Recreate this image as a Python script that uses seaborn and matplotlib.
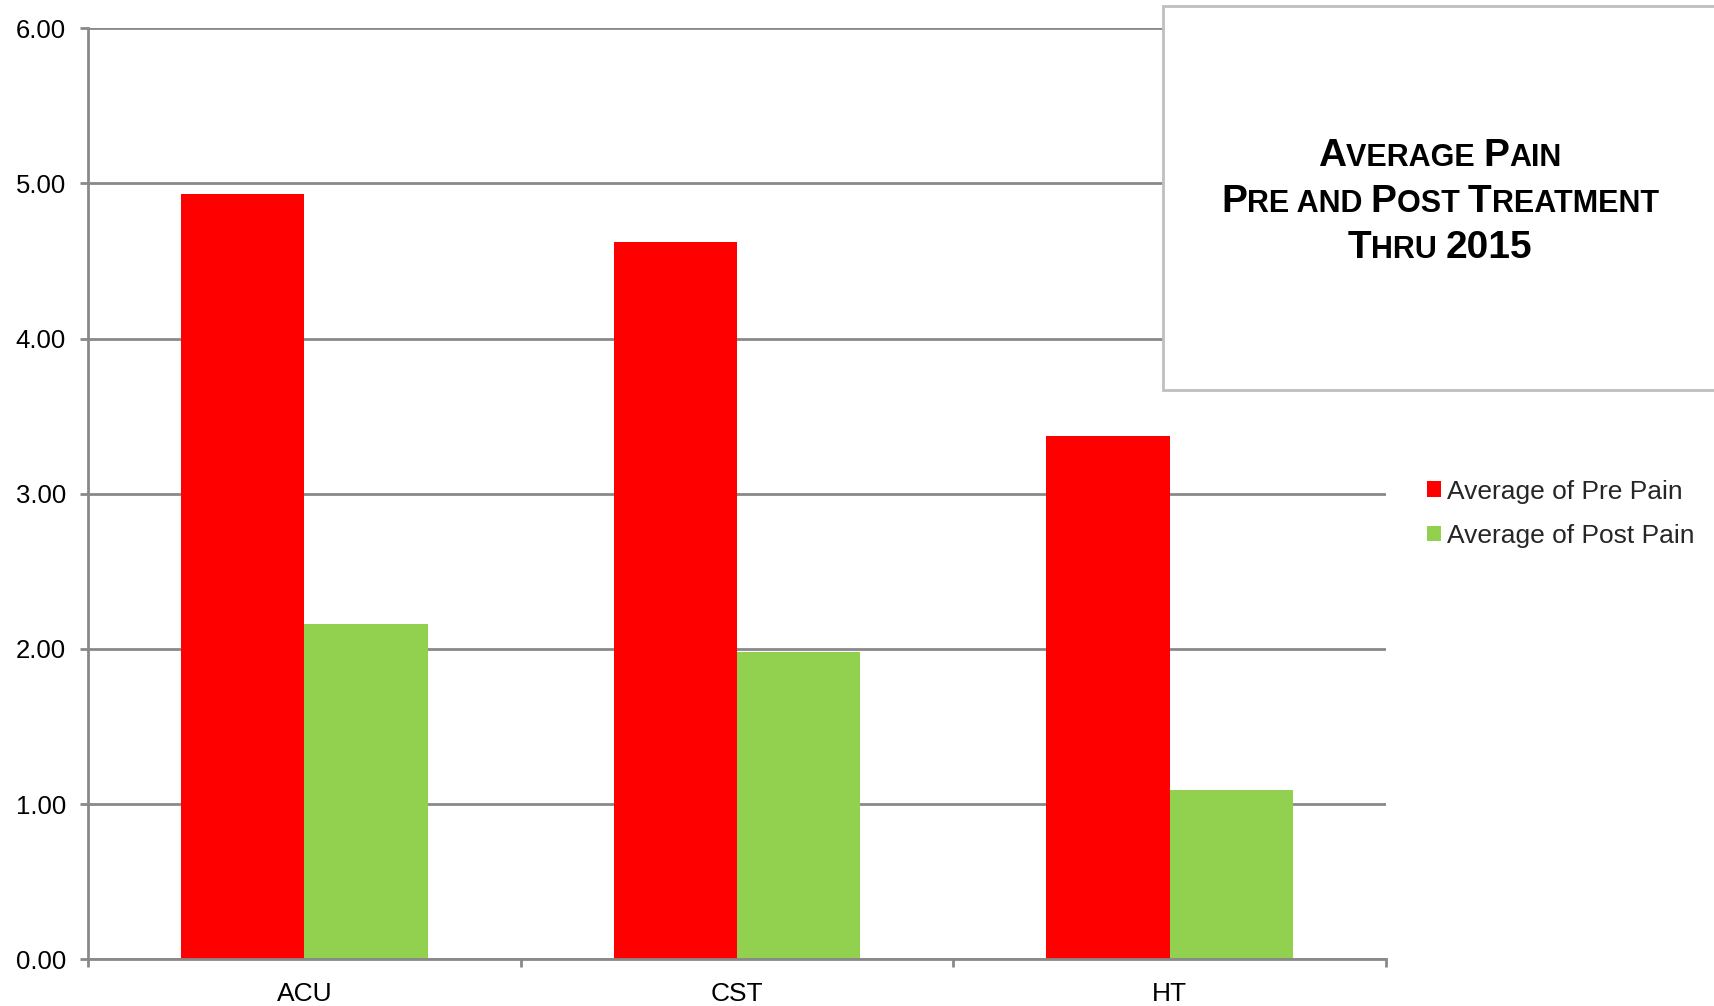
import matplotlib
matplotlib.use("Agg")
import matplotlib.pyplot as plt
import seaborn as sns
import pandas as pd
from matplotlib.patches import Rectangle, Patch
from matplotlib.offsetbox import TextArea, HPacker, VPacker, AnnotationBbox

categories = ["ACU", "CST", "HT"]
pre_pain = [4.93, 4.62, 3.37]
post_pain = [2.16, 1.98, 1.09]
series_names = ["Average of Pre Pain", "Average of Post Pain"]
series_colors = ["#FF0000", "#92D050"]
y_ticks = [0, 1, 2, 3, 4, 5, 6]

sns.set_theme(style="white")
plt.rcParams["font.family"] = ["Liberation Sans", "DejaVu Sans"]

df = pd.DataFrame({
    "category": categories * 2,
    "value": pre_pain + post_pain,
    "series": [series_names[0]] * 3 + [series_names[1]] * 3,
})

fig = plt.figure(figsize=(17.15, 10.06), dpi=100)
ax = fig.add_axes([88 / 1715, 1 - 959.3 / 1006, (1386 - 88) / 1715, (959.3 - 28.1) / 1006])

sns.barplot(data=df, x="category", y="value", hue="series", order=categories,
            hue_order=series_names, palette=series_colors, width=0.57, gap=0,
            saturation=1, linewidth=0, ax=ax, legend=False, errorbar=None)

grid_color = "#898989"
ax.set_xlim(-0.5, 2.5)
ax.set_ylim(0, 6)
ax.set_yticks(y_ticks)
ax.set_yticklabels([f"{v:.2f}" for v in y_ticks])
ax.yaxis.grid(True, color=grid_color, linewidth=2)
ax.set_axisbelow(True)
ax.set_xlabel("")
ax.set_ylabel("")
for s in ["top", "right"]:
    ax.spines[s].set_visible(False)
for s in ["left", "bottom"]:
    ax.spines[s].set_color(grid_color)
    ax.spines[s].set_linewidth(2)
ax.tick_params(axis="y", length=6, width=2, color=grid_color, labelsize=18.5,
               labelcolor="black", pad=10, left=True)
ax.tick_params(axis="x", which="major", length=0, labelsize=19, labelcolor="black", pad=16)
ax.set_xticks([-0.5, 0.5, 1.5, 2.5], minor=True)
ax.tick_params(axis="x", which="minor", length=6, width=2, color=grid_color, bottom=True)

# Legend
handles = [Patch(facecolor=c, edgecolor="none") for c in series_colors]
fig.legend(handles, series_names, loc="upper left",
           bbox_to_anchor=(1427 / 1715, 1 - 479.5 / 1006), frameon=False,
           fontsize=19, handlelength=0.53, handleheight=0.53, handletextpad=0.23,
           labelspacing=0.77, borderpad=0, borderaxespad=0)

# Title box
box = Rectangle((1163 / 1715, 1 - 390 / 1006), 0.4, 384 / 1006,
                transform=fig.transFigure, facecolor="white", edgecolor="#BFBFBF",
                linewidth=2, zorder=5)
fig.add_artist(box)

big, small = 28, 22
def piece(t, size):
    return TextArea(t, textprops=dict(fontsize=size, fontweight="bold", color="black",
                                      family="Liberation Sans"))

lines = [
    [("A", big), ("VERAGE ", small), ("P", big), ("AIN", small)],
    [("P", big), ("RE AND ", small), ("P", big), ("OST ", small), ("T", big), ("REATMENT", small)],
    [("T", big), ("HRU ", small), ("2015", big)],
]
rows = [HPacker(children=[piece(t, s) for t, s in ln], align="baseline", pad=0, sep=0)
        for ln in lines]
vbox = VPacker(children=rows, align="center", pad=0, sep=7.5)
ab = AnnotationBbox(vbox, (1440 / 1715, 1 - 202 / 1006), xycoords="figure fraction",
                    frameon=False, box_alignment=(0.5, 0.5), zorder=6)
fig.add_artist(ab)

fig.savefig("out.png", dpi=100)
